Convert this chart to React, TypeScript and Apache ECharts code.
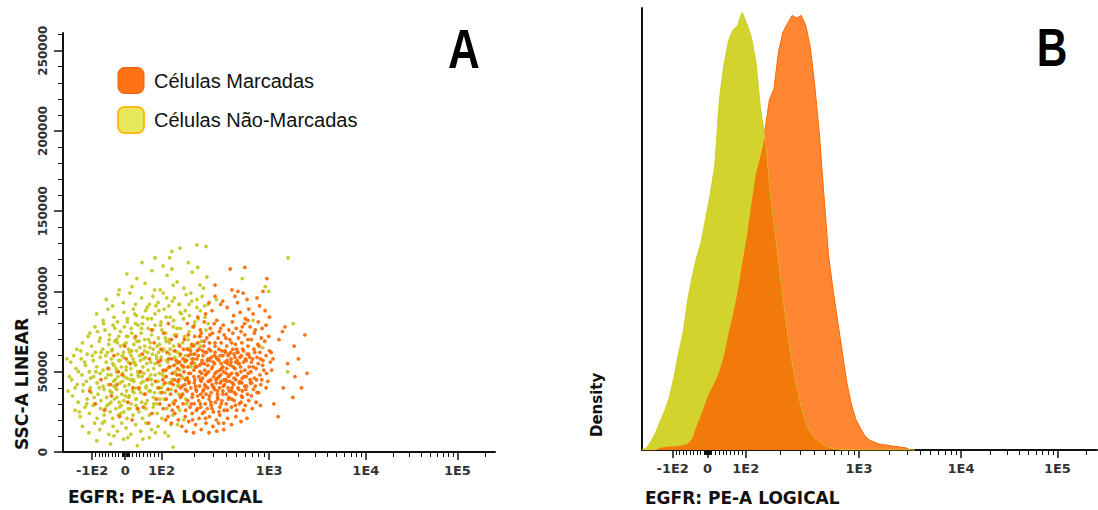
import React, { useEffect, useRef } from "react";
import * as echarts from "echarts";

// ---------- axis labels ----------
const xTickPositions = [67.5, 144, 228, 477, 701, 913]; // display channel (0..1000)
const xTickLabels = ["-1E2", "0", "1E2", "1E3", "1E4", "1E5"];
const sscTicksK = [0, 50, 100, 150, 200, 250]; // SSC in thousands
const legendNames = ["Células Marcadas", "Células Não-Marcadas"];
const xTitle = "EGFR: PE-A LOGICAL";
const yTitleLeft = "SSC-A LINEAR";
const yTitleRight = "Density";

// ---------- scatter data: [channel, SSC (thousands)] ----------
const marcadasPoints: [number, number][] = [
  [387,114],[421,115],[472,108],[352,104],[405,100],[391,101],
  [398,97],[417,99],[426,95],[449,96],[463,100],[352,97],[370,94],[338,93],
  [365,92],[380,90],[404,93],[410,87],[430,89],[440,86],[455,91],[468,88],[478,84],[345,88],[330,86],[395,85],[312,84],[422,83],
  [514,78],[508,75],[560,73],[500,70],[535,66],[565,49],[537,47],[532,34],[498,22],[545,58],[520,55],[488,30],[510,40],[482,62],[552,40],
  [302,78],[318,76],[327,81],[341,77],[350,80],[362,75],[371,79],[384,76],[392,81],[401,77],[412,75],[420,80],[433,78],[445,76],[452,81],[461,77],[470,79],[288,80],[356,82],[428,82],
  [281,70],[290,73],[298,67],[305,72],[312,68],[320,74],[326,66],[333,71],[339,68],[346,74],[352,66],[359,71],[366,68],[373,73],[379,66],[386,70],[393,74],[399,67],[406,71],[414,68],[421,73],[428,66],[436,70],[443,74],[451,67],[459,71],[467,69],[476,72],[262,72],[270,66],
  [252,58],[259,63],[266,56],[272,61],[279,64],[284,57],[290,60],[295,63],[300,56],[305,61],[310,58],[315,64],[320,55],[324,60],[329,62],[334,57],[338,64],[343,59],[348,56],[352,62],[357,58],[361,64],[366,55],[370,60],[375,63],[380,57],[384,61],[389,56],[393,64],[398,59],[403,62],[408,55],[413,60],[418,63],[424,57],[430,61],[436,56],[442,64],[449,59],[456,62],[463,57],[470,60],[478,63],[486,58],[241,62],
  [232,51],[239,47],[246,53],[253,49],[258,45],[265,52],[271,48],[275,54],[280,50],[287,46],[289,53],[295,49],[297,55],[303,51],[305,45],[309,53],[314,47],[316,54],[321,49],[323,46],[328,51],[330,48],[335,54],[337,50],[342,45],[344,52],[349,47],[351,55],[356,50],[358,46],[363,51],[365,48],[370,53],[372,50],[377,45],[379,52],[383,47],[388,54],[390,49],[396,46],[398,52],[404,48],[406,55],[412,50],[415,46],[421,51],[424,47],[431,53],[435,50],[443,46],[447,52],[456,48],[462,54],[471,49],[483,51],
  [222,40],[229,37],[236,43],[243,39],[249,36],[255,42],[261,38],[266,44],[272,40],[277,36],[282,42],[287,38],[291,44],[296,40],[300,36],[304,43],[308,39],[312,35],[316,41],[320,44],[324,38],[328,42],[331,36],[335,40],[339,44],[343,37],[347,41],[351,39],[355,43],[358,36],[362,40],[366,44],[370,38],[374,42],[378,36],[382,40],[386,44],[390,38],[395,42],[400,36],[405,40],[410,44],[415,38],[421,41],[427,36],[434,43],[441,39],[449,37],[458,42],[470,40],
  [224,30],[232,27],[239,33],[246,29],[253,26],[260,32],[266,28],[272,34],[278,30],[284,26],[289,32],[294,28],[299,34],[304,30],[309,26],[314,32],[319,28],[324,34],[329,30],[334,27],[338,33],[343,29],[348,25],[353,31],[358,34],[363,28],[368,32],[373,26],[378,30],[384,34],[390,28],[396,32],[402,26],[408,30],[415,34],[422,29],[430,32],[438,27],[447,31],[457,29],
  [243,22],[251,18],[259,24],[267,20],[275,16],[283,22],[291,19],[299,24],[307,17],[315,21],[323,24],[331,18],[339,22],[347,16],[355,20],[363,23],[372,18],[381,21],[390,17],[400,22],[412,19],[426,21],
  [285,13],[302,12],[320,14],[338,12],[356,13],[372,14],
  [62,38],[75,30],[88,45],[96,26],[104,52],[112,35],[118,60],[125,42],[131,22],[137,48],[143,66],[150,31],[156,55],[162,40],[168,72],[173,27],[179,50],[184,61],[190,36],[195,45],[200,58],[206,24],[211,68],[216,33],[220,56],[214,44],[205,76],[198,18],[186,28],[176,40],[160,20],[146,58],[128,50],[110,42],[227,64],[233,74],[238,20],[244,80],[251,70],[257,30],
  [301,58],[307,41],[311,63],[318,45],[322,57],[326,39],[332,62],[336,44],[340,57],[345,42],[350,60],[354,45],[357,38],[361,57],[364,43],[368,63],[371,41],[375,56],[379,44],[382,60],[385,38],[389,58],[392,43],[396,61],[400,45],[403,57],[407,39],[410,59],[414,43],[418,56],[423,39],[426,61],[433,45],[439,58],[445,41],[452,55],[460,45],[286,57],[292,43],[296,61],[283,39],[278,58],[268,45],[262,57],[274,35],[318,30],[342,31],[366,30],[391,33],[412,31],[436,35],[302,66],[327,69],[352,68],[377,71],[402,64],[428,70],[454,66],
  [303,47],[306,53],[309,38],[313,60],[317,50],[319,36],[323,63],[327,55],[330,41],[333,49],[336,58],[339,35],[342,63],[346,53],[349,40],[352,49],[355,59],[358,33],[361,47],[364,60],[367,52],[370,36],[373,45],[376,62],[378,49],[381,55],[383,33],[386,48],[388,62],[391,40],[394,53],[397,37],[400,56],[402,49],[405,62],[408,43],[411,53],[413,35],[416,64],[419,47],[422,58],[425,41],[429,49],[432,59],[437,43],[440,53],[444,62],[448,45],[453,37],[457,58],[465,51],[474,44],[480,56],[291,49],[288,64],[284,45],[279,53],[276,41],[270,56],[264,48],[257,54],[250,43],[245,58],[238,51],[231,45],[226,57],[297,30],[311,27],[327,25],[345,27],[361,25],[380,26],[399,29],[418,26],[300,20],[330,21],[360,18],[316,72],[340,73],[365,77],[390,68],[415,78]
];

const naoMarcadasPoints: [number, number][] = [
  [310,129],[331,128],[271,127],[252,125],[247,121],[213,121],[183,118],[521,121],[290,118],[232,116],
  [148,111],[171,108],[206,113],[241,110],[264,106],[299,112],[317,104],[333,109],[160,103],[190,105],[225,101],[252,114],[280,102],[312,115],[468,103],[476,100],[130,101],
  [100,95],[115,91],[128,98],[140,93],[155,99],[168,92],[182,96],[195,90],[208,97],[220,93],[232,99],[245,91],[258,96],[270,92],[285,98],[298,94],[310,90],[322,97],[336,92],[355,95],
  [78,86],[93,82],[104,89],[118,84],[126,81],[141,87],[149,83],[163,89],[170,85],[184,80],[191,88],[205,83],[213,86],[227,81],[234,89],[248,84],[256,82],[271,87],[279,83],[293,85],[305,81],[318,88],[329,84],
  [62,74],[74,78],[86,71],[97,76],[108,73],[116,79],[124,70],[133,75],[142,78],[150,72],[158,77],[166,71],[174,79],[181,74],[189,70],[197,77],[205,73],[213,79],[221,71],[229,76],[238,74],[246,70],[255,78],[263,73],[272,77],[281,71],[292,75],[304,79],[318,72],[331,76],
  [32,64],[45,68],[56,61],[66,66],[75,62],[84,69],[92,64],[99,60],[106,67],[113,63],[120,69],[127,61],[133,66],[140,62],[146,68],[152,64],[158,60],[164,67],[170,63],[176,69],[183,61],[189,66],[196,62],[202,68],[209,64],[216,60],[223,67],[231,63],[239,69],[247,61],[256,66],[266,62],[277,68],[289,64],[302,61],[318,66],
  [9,58],[18,56],[30,52],[42,58],[52,54],[61,50],[70,57],[78,53],[86,59],[93,51],[100,56],[106,52],[112,58],[118,54],[124,50],[129,57],[135,53],[140,59],[146,51],[151,56],[157,52],[162,58],[168,54],[173,50],[179,57],[185,53],[191,59],[197,51],[203,56],[210,52],[217,58],[224,54],[232,50],[240,57],[249,53],[259,59],[270,51],[282,56],[296,53],
  [20,45],[33,42],[44,48],[54,44],[63,40],[71,47],[79,43],[86,49],[93,41],[99,46],[105,42],[111,48],[117,44],[122,40],[127,47],[132,43],[138,49],[143,41],[148,46],[153,42],[158,48],[164,44],[169,40],[175,47],[181,43],[187,49],[193,41],[199,46],[206,42],[213,48],[220,44],[228,40],[236,47],[245,43],[255,49],[266,41],[278,46],[291,43],
  [22,35],[35,31],[46,38],[56,33],[65,37],[73,30],[81,36],[88,32],[95,39],[101,34],[107,30],[113,37],[119,33],[124,39],[130,31],[136,36],[141,32],[147,38],[152,34],[158,30],[164,37],[170,33],[176,39],[182,31],[188,36],[195,32],[202,38],[209,34],[217,30],[225,37],[234,33],[244,39],[255,31],[268,36],[284,33],
  [28,26],[40,22],[51,28],[61,24],[70,29],[79,21],[87,27],[95,23],[102,29],[109,25],[115,21],[122,27],[128,23],[135,29],[141,25],[148,21],[155,27],[162,23],[169,29],[176,25],[184,21],[192,27],[200,23],[209,28],[218,24],[229,21],[240,27],[254,23],[270,26],
  [45,16],[60,12],[73,18],[85,14],[96,19],[106,11],[116,16],[126,13],[136,18],[146,15],[157,11],[168,17],[180,13],[192,18],[205,14],[220,16],[236,12],[250,17],
  [78,7],[110,5],[140,8],[172,4],[200,9],[255,3],
  [103,62],[109,38],[115,55],[121,45],[126,68],[131,28],[137,60],[142,47],[147,72],[153,35],[159,63],[163,45],[167,55],[172,27],[178,65],[183,47],[187,58],[192,40],[198,70],[203,48],[207,61],[212,37],[218,66],[223,49],[227,59],[233,42],[237,71],[242,52],[248,64],[252,45],[258,73],[263,55],[268,67],[275,47],[283,60],[290,70],[297,58],[306,67],[168,80],[185,84],[200,92],[212,101],[222,88],[240,96],[255,104],[268,92],[283,88],[296,99],[310,95],[325,102],
  [533,80],[520,50],[462,65],[440,82],[415,108],
  [104,48],[107,70],[111,31],[114,64],[118,41],[120,77],[123,52],[125,34],[129,72],[132,57],[134,24],[138,44],[141,67],[144,35],[146,53],[149,81],[151,27],[154,62],[156,45],[159,74],[161,38],[164,56],[166,86],[169,33],[171,69],[174,48],[177,60],[180,37],[182,77],[186,44],[189,63],[191,30],[194,55],[196,83],[199,38],[201,65],[204,45],[208,76],[210,30],[213,55],[215,91],[219,40],[221,62],[224,33],[226,79],[230,48],[233,64],[236,37],[239,84],[243,56],[246,68],[250,39],[253,94],[257,63],[260,50],[264,77],[267,42],[271,60],[274,86],[279,53],[282,72],[288,46],[292,92],[295,65],[300,78],[305,55],[313,83],[320,69],[328,91],[336,80],[88,62],[84,40],[80,75],[76,50],[72,34],[68,60],[64,46],[58,72],[55,30],[50,56],[47,42],[41,63],[38,25],[36,50],[28,40],[25,60],[15,47],[12,38],[94,80],[98,27],[91,18],[118,10],[150,9],[185,8],[214,12],[244,10],[265,17],[280,20],[286,30]
];

// ---------- histogram data ----------
const histChannels = [0,10,20,30,40,50,60,70,80,90,100,110,120,130,140,150,160,170,180,190,200,210,220,230,240,250,260,270,280,290,300,310,320,330,340,350,360,370,380,390,400,410,420,430,440,450,460,470,480,490,500,510,520,530,540,550,560,570,580,590,600];
const histNaoMarcadas = [0,0.5,2,4,6.5,9,12,16.5,22,26.5,34,39.5,44,47.5,53,58.5,65,80,88,93.5,96,97,100,97.5,94.5,89,78.5,71.5,60,51,42.5,34,26,19.5,14,9.5,6,4,2.5,1.8,1,0.6,0.3,0.1,0,0,0,0,0,0,0,0,0,0,0,0,0,0,0,0,0];
const histMarcadas = [0,0,0,0,0.5,0.7,0.8,0.8,0.9,1.1,1.4,2.5,5.5,8,11,13.5,15.5,18,21.5,26.5,31,36,42.5,48.5,56,63,67,73,80,82.5,91,95.5,97.5,99.3,98.7,99.3,97,92,83,72,58,44.5,36.5,29.5,22.5,15.5,10.5,7,5,3.2,2.3,1.8,1.4,1.2,1.1,0.9,0.8,0.6,0.5,0,0];

function buildMinorX(): number[] {
  const out: number[] = [];
  const neg = xTickPositions[0], zero = xTickPositions[1], pos = xTickPositions[2];
  for (let v = -90; v <= 90; v += 10) {
    if (v === 0) continue;
    out.push(v < 0 ? zero + (v / 100) * (zero - neg) : zero + (v / 100) * (pos - zero));
  }
  for (let v = -8; v <= 8; v += 2) {
    if (v === 0) continue;
    out.push(v < 0 ? zero + (v / 100) * (zero - neg) : zero + (v / 100) * (pos - zero));
  }
  const dec = [
    [xTickPositions[2], xTickPositions[3]],
    [xTickPositions[3], xTickPositions[4]],
    [xTickPositions[4], xTickPositions[5]],
    [xTickPositions[5], xTickPositions[5] + (xTickPositions[5] - xTickPositions[4])],
  ];
  for (const [a, b] of dec) {
    for (let k = 2; k <= 9; k++) {
      const p = a + (b - a) * Math.log10(k);
      if (p < 1000) out.push(p);
    }
  }
  return out;
}

const yMinorK: number[] = [];
for (let v = 10; v <= 260; v += 10) if (v % 50 !== 0) yMinorK.push(v);

export default function App() {
  const ref = useRef<HTMLDivElement>(null);
  useEffect(() => {
    if (!ref.current) return;
    const chart = echarts.init(ref.current, undefined, { renderer: "svg" });
    const minorX = buildMinorX();
    const gridL = { left: 63, top: 33, width: 432, height: 419 };
    const gridR = { left: 642, top: 8, width: 455, height: 442 };
    const tickLabelStyle = {
      fontFamily: "DejaVu Sans",
      fontWeight: "bold" as const,
      fontSize: 13,
      color: "#333",
    };
    const mainX = (gridIndex: number) => ({
      gridIndex,
      type: "value",
      min: 0,
      max: 1000,
      axisLine: { show: true, lineStyle: { color: "#111", width: 2 } },
      axisTick: { show: true, customValues: xTickPositions, length: 8, lineStyle: { color: "#111", width: 1.5 } },
      axisLabel: {
        ...tickLabelStyle,
        customValues: xTickPositions,
        margin: 12,
        formatter: (v: number) => {
          const i = xTickPositions.findIndex((p) => Math.abs(p - v) < 1e-6);
          return i >= 0 ? xTickLabels[i] : "";
        },
      },
      splitLine: { show: false },
    });
    const minorXAxis = (gridIndex: number) => ({
      gridIndex,
      type: "value",
      min: 0,
      max: 1000,
      axisLine: { show: false },
      axisTick: { show: true, customValues: minorX, length: 5, lineStyle: { color: "#111", width: 1 } },
      axisLabel: { show: false },
      splitLine: { show: false },
    });
    const overlap = histChannels.map((c, i) => [c, Math.min(histNaoMarcadas[i], histMarcadas[i])]);

    chart.setOption({
      animation: false,
      backgroundColor: "#fff",
      grid: [gridL, gridL, gridR, gridR],
      xAxis: [mainX(0), minorXAxis(1), mainX(2), minorXAxis(3)],
      yAxis: [
        {
          gridIndex: 0,
          type: "value",
          min: 0,
          max: 261,
          axisLine: { show: true, lineStyle: { color: "#111", width: 2 } },
          axisTick: { show: true, customValues: sscTicksK, length: 9, lineStyle: { color: "#111", width: 1.5 } },
          axisLabel: {
            ...tickLabelStyle,
            fontSize: 12,
            customValues: sscTicksK,
            rotate: 90,
            margin: 14,
            formatter: (v: number) => String(Math.round(v * 1000)),
          },
          splitLine: { show: false },
        },
        {
          gridIndex: 1,
          type: "value",
          min: 0,
          max: 261,
          axisLine: { show: false },
          axisTick: { show: true, customValues: yMinorK, length: 5, lineStyle: { color: "#111", width: 1 } },
          axisLabel: { show: false },
          splitLine: { show: false },
        },
        {
          gridIndex: 2,
          type: "value",
          min: 0,
          max: 101,
          axisLine: { show: true, lineStyle: { color: "#111", width: 2 } },
          axisTick: { show: false },
          axisLabel: { show: false },
          splitLine: { show: false },
        },
        { gridIndex: 3, type: "value", min: 0, max: 101, show: false },
      ],
      legend: {
        orient: "vertical",
        left: 117,
        top: 67,
        padding: 0,
        itemWidth: 26,
        itemHeight: 26,
        itemGap: 12,
        icon: "roundRect",
        selectedMode: false,
        textStyle: { fontFamily: "Liberation Sans", fontSize: 20, color: "#111", padding: [0, 0, 0, 5] },
        data: [
          { name: legendNames[0], itemStyle: { color: "#FF6600", borderColor: "#E55B00", borderWidth: 1 } },
          { name: legendNames[1], itemStyle: { color: "#E3E64C", borderColor: "#FFB400", borderWidth: 2 } },
        ],
      },
      series: [
        {
          type: "scatter",
          name: legendNames[1],
          xAxisIndex: 0,
          yAxisIndex: 0,
          data: naoMarcadasPoints,
          symbolSize: 3.8,
          itemStyle: { color: "#C2C61C", opacity: 0.9 },
        },
        {
          type: "scatter",
          name: legendNames[0],
          xAxisIndex: 0,
          yAxisIndex: 0,
          data: marcadasPoints,
          symbolSize: 3.8,
          itemStyle: { color: "#FF6800", opacity: 0.92 },
        },
        {
          type: "line",
          name: "Densidade Marcadas",
          xAxisIndex: 2,
          yAxisIndex: 2,
          data: histChannels.map((c, i) => [c, histMarcadas[i]]),
          showSymbol: false,
          lineStyle: { color: "#FF6600", width: 1 },
          areaStyle: { color: "#FF8633", opacity: 1 },
          z: 2,
        },
        {
          type: "line",
          name: "Densidade Não-Marcadas",
          xAxisIndex: 2,
          yAxisIndex: 2,
          data: histChannels.map((c, i) => [c, histNaoMarcadas[i]]),
          showSymbol: false,
          lineStyle: { color: "#CDCD28", width: 1 },
          areaStyle: { color: "#D3D32E", opacity: 1 },
          z: 3,
        },
        {
          type: "line",
          name: "Sobreposição",
          xAxisIndex: 2,
          yAxisIndex: 2,
          data: overlap,
          showSymbol: false,
          lineStyle: { width: 0, color: "#F27A0A" },
          areaStyle: { color: "#F27A0A", opacity: 1 },
          z: 4,
        },
      ],
      graphic: [
        {
          type: "text",
          x: 22,
          y: 450,
          rotation: Math.PI / 2,
          style: { text: yTitleLeft, fontFamily: "DejaVu Sans", fontWeight: "bold", fontSize: 17, fill: "#111", textAlign: "left", textVerticalAlign: "middle" },
        },
        {
          type: "text",
          x: 597,
          y: 437,
          rotation: Math.PI / 2,
          style: { text: yTitleRight, fontFamily: "DejaVu Sans", fontWeight: "bold", fontSize: 15, fill: "#111", textAlign: "left", textVerticalAlign: "middle" },
        },
        {
          type: "text",
          x: 68,
          y: 497,
          style: { text: xTitle, fontFamily: "DejaVu Sans", fontWeight: "bold", fontSize: 17, fill: "#111", textAlign: "left", textVerticalAlign: "middle" },
        },
        {
          type: "text",
          x: 645,
          y: 498,
          style: { text: xTitle, fontFamily: "DejaVu Sans", fontWeight: "bold", fontSize: 17, fill: "#111", textAlign: "left", textVerticalAlign: "middle" },
        },
        {
          type: "text",
          x: 464,
          y: 49,
          scaleX: 0.8,
          style: { text: "A", fontFamily: "Liberation Sans", fontWeight: "bold", fontSize: 55, fill: "#000", textAlign: "center", textVerticalAlign: "middle" },
        },
        {
          type: "text",
          x: 1052,
          y: 48,
          scaleX: 0.8,
          style: { text: "B", fontFamily: "Liberation Sans", fontWeight: "bold", fontSize: 53, fill: "#000", textAlign: "center", textVerticalAlign: "middle" },
        },
      ],
    });
    return () => chart.dispose();
  }, []);
  return (
    <div
      ref={ref}
      style={{ position: "absolute", left: 0, top: 0, width: 1098, height: 510, background: "#fff" }}
    />
  );
}
